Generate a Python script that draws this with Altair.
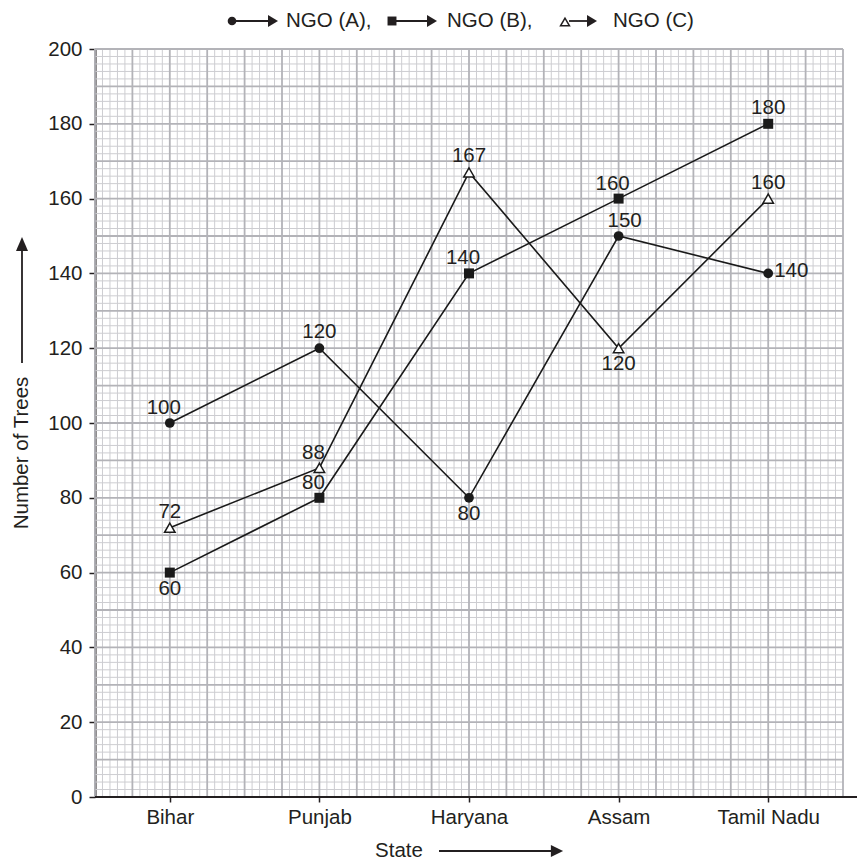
import altair as alt
import pandas as pd

# ---------------- data ----------------
states = ["Bihar", "Punjab", "Haryana", "Assam", "Tamil Nadu"]
series_names = ["NGO (A)", "NGO (B)", "NGO (C)"]
ngo_a = [100, 120, 80, 150, 140]
ngo_b = [60, 80, 140, 160, 180]
ngo_c = [72, 88, 167, 120, 160]
# where each value label sits relative to its marker
place_a = ["above-left", "above", "below", "above-right", "right"]
place_b = ["below", "above-left", "above-left", "above-left", "above"]
place_c = ["above", "above-left", "above", "below", "above"]
y_ticks = [0, 20, 40, 60, 80, 100, 120, 140, 160, 180, 200]
minor_grid = list(range(0, 201, 2))
major_grid = list(range(0, 201, 10))

rows = []
for name, vals, places in zip(series_names, [ngo_a, ngo_b, ngo_c], [place_a, place_b, place_c]):
    for s, v, p in zip(states, vals, places):
        rows.append({"series": name, "state": s, "value": v, "place": p})
df = pd.DataFrame(rows)

INK = "#231f20"
FONT = "Liberation Sans"
FS = 20.5
W = H = 748

# ---------------- grid layer (own numeric scales, no axes) ----------------
gscale = alt.Scale(domain=[0, 200], nice=False, zero=False)
minor_df = pd.DataFrame({"g": [g for g in minor_grid if g % 10 != 0]})
major_df = pd.DataFrame({"g": major_grid})

MINOR = "#cdcdd1"
MAJOR = "#b3b3b8"
grid = alt.layer(
    alt.Chart(minor_df).mark_rule(color=MINOR, strokeWidth=1).encode(
        x=alt.X("g:Q", scale=gscale, axis=None)),
    alt.Chart(minor_df).mark_rule(color=MINOR, strokeWidth=1).encode(
        y=alt.Y("g:Q", scale=gscale, axis=None)),
    alt.Chart(major_df).mark_rule(color=MAJOR, strokeWidth=1.8).encode(
        x=alt.X("g:Q", scale=gscale, axis=None)),
    alt.Chart(major_df).mark_rule(color=MAJOR, strokeWidth=1.8).encode(
        y=alt.Y("g:Q", scale=gscale, axis=None)),
)

# ---------------- data layer ----------------
x_scale = alt.Scale(type="point", domain=states, padding=0.5)
y_scale = alt.Scale(domain=[0, 200], nice=False)

x_enc = alt.X("state:N", scale=x_scale, sort=states,
              axis=alt.Axis(title=None, labelAngle=0, domain=False, grid=False,
                            tickColor=INK, tickWidth=1.5, tickSize=5,
                            labelFont=FONT, labelFontSize=FS, labelColor=INK,
                            labelPadding=5))
y_enc = alt.Y("value:Q", scale=y_scale,
              axis=alt.Axis(title=None, values=y_ticks, grid=False,
                            domainColor=INK, domainWidth=2,
                            tickColor=INK, tickWidth=1.5, tickSize=6,
                            labelFont=FONT, labelFontSize=FS, labelColor=INK,
                            labelPadding=7))

base = alt.Chart(df)

lines = base.mark_line(color="#1a1a1a", strokeWidth=1.6).encode(
    x=x_enc, y=y_enc, detail="series:N")

pts_a = base.transform_filter(alt.datum.series == "NGO (A)").mark_point(
    shape="circle", filled=True, color="#1a1a1a", size=95, opacity=1).encode(x=x_enc, y=y_enc)
pts_b = base.transform_filter(alt.datum.series == "NGO (B)").mark_point(
    shape="square", filled=True, color="#1a1a1a", size=100, opacity=1).encode(x=x_enc, y=y_enc)
pts_c = base.transform_filter(alt.datum.series == "NGO (C)").mark_point(
    shape="triangle-up", filled=True, fill="white", stroke="#1a1a1a", strokeWidth=1.5,
    size=110, opacity=1).encode(x=x_enc, y=y_enc)

place_style = {
    "above": dict(dx=0, dy=-16, align="center"),
    "below": dict(dx=0, dy=16, align="center"),
    "above-left": dict(dx=-6, dy=-15, align="center"),
    "above-right": dict(dx=6, dy=-15, align="center"),
    "right": dict(dx=6, dy=-2, align="left"),
}
label_layers = []
for p, st in place_style.items():
    label_layers.append(
        base.transform_filter(alt.datum.place == p).mark_text(
            font=FONT, fontSize=FS, color=INK, baseline="middle", **st).encode(
            x=x_enc, y=y_enc, text="value:Q"))

data_layer = alt.layer(lines, pts_a, pts_b, pts_c, *label_layers)

# ---------------- annotations (axis line extension, titles, legend) ----------------
one = pd.DataFrame({"k": [0]})
arrow_right = "M-1,-1L1,0L-1,1Z"
arrow_right_l = "M-1,-1.2L1,0L-1,1.2Z"
arrow_up = "M-0.85,1L0,-1L0.85,1Z"


def rule(x, y, x2=None, y2=None, w=2):
    enc = dict(x=alt.value(x), y=alt.value(y))
    if x2 is not None:
        enc["x2"] = alt.value(x2)
    if y2 is not None:
        enc["y2"] = alt.value(y2)
    return alt.Chart(one).mark_rule(color=INK, strokeWidth=w).encode(**enc)


def sym(x, y, shape, size, filled=True):
    if filled:
        kw = dict(filled=True, color=INK, strokeWidth=0)
    else:
        kw = dict(filled=True, fill="white", stroke=INK, strokeWidth=1.5)
    return alt.Chart(one).mark_point(shape=shape, size=size, opacity=1, **kw).encode(
        x=alt.value(x), y=alt.value(y))


def txt(x, y, s, angle=0, align="left"):
    kw = dict(angle=angle) if angle else {}
    return alt.Chart(one).mark_text(font=FONT, fontSize=FS, color=INK, align=align,
                                    baseline="middle", text=s, **kw).encode(
        x=alt.value(x), y=alt.value(y))


LY = -28
annotations = [
    # extended x axis line with end tick
    rule(0, H, x2=768),
    rule(768, H - 5, y2=H + 6),
    # x title + arrow
    txt(304, 802, "State", align="center"),
    rule(344, 802, x2=458, w=1.8),
    sym(462, 802, arrow_right, 150),
    # y title + arrow
    txt(-73, 404, "Number of Trees", angle=270, align="center"),
    rule(-73, 314, y2=200, w=1.8),
    sym(-73, 195, arrow_up, 200),
    # legend
    rule(137, LY, x2=180, w=1.8), sym(137, LY, "circle", 75),
    sym(178, LY, arrow_right_l, 100), txt(191, LY, "NGO (A),"),
    rule(297, LY, x2=338, w=1.8), sym(297, LY, "square", 80),
    sym(337, LY, arrow_right_l, 100), txt(352, LY, "NGO (B),"),
    rule(474, LY, x2=498, w=1.8), sym(470, LY + 1, "triangle-up", 80, filled=False),
    sym(497, LY, arrow_right_l, 100), txt(518, LY, "NGO (C)"),
]

chart = alt.layer(grid, data_layer, *annotations).resolve_scale(
    x="independent", y="independent"
).properties(
    width=W, height=H,
    autosize=alt.AutoSizeParams(type="none"),
    padding={"left": 87, "top": 41, "right": 14, "bottom": 66},
    background="white",
).configure_view(stroke=None)

chart.save("out.html", embed_options={"renderer": "svg", "actions": False})
